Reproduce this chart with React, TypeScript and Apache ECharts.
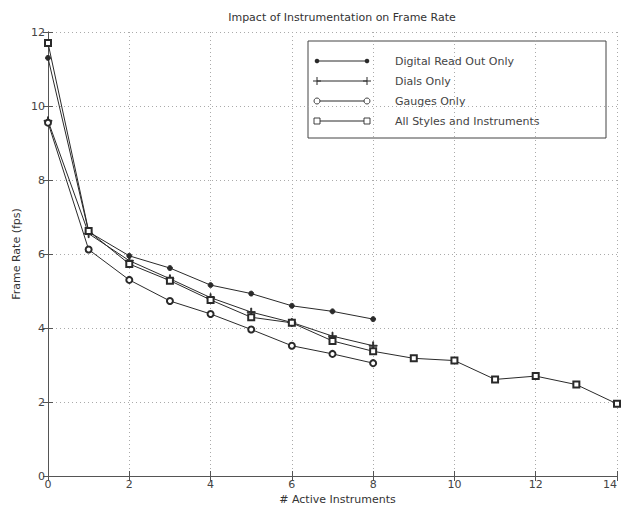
import React, { useEffect, useRef } from "react";
import * as echarts from "echarts";

const TITLE = "Impact of Instrumentation on Frame Rate";
const X_NAME = "# Active Instruments";
const Y_NAME = "Frame Rate (fps)";
const SERIES_NAMES = [
  "Digital Read Out Only",
  "Dials Only",
  "Gauges Only",
  "All Styles and Instruments",
];
const X_SHORT = [0, 1, 2, 3, 4, 5, 6, 7, 8];
const X_LONG = [0, 1, 2, 3, 4, 5, 6, 7, 8, 9, 10, 11, 12, 13, 14];
const DIGITAL = [11.3, 6.6, 5.95, 5.62, 5.16, 4.93, 4.6, 4.45, 4.24];
const DIALS = [9.6, 6.55, 5.82, 5.33, 4.82, 4.43, 4.15, 3.78, 3.52];
const GAUGES = [9.55, 6.12, 5.3, 4.73, 4.38, 3.96, 3.52, 3.3, 3.05];
const ALL = [11.7, 6.62, 5.73, 5.28, 4.76, 4.29, 4.14, 3.65, 3.37, 3.18, 3.12, 2.61, 2.7, 2.47, 1.95];

const PLUS = "path://M4.4,0H5.6V4.4H10V5.6H5.6V10H4.4V5.6H0V4.4H4.4Z";
const INK = "#2a2a2a";

export default function App() {
  const ref = useRef<HTMLDivElement>(null);
  useEffect(() => {
    document.body.style.margin = "0";
    const chart = echarts.init(ref.current!, null, { renderer: "svg" });
    const font = "'DejaVu Sans', Verdana, sans-serif";
    const pair = (xs: number[], ys: number[]) => ys.map((y, i) => [xs[i], y]);
    const mk = (name: string, data: number[][], symbol: string, size: number) => ({
      name,
      type: "line",
      data,
      symbol,
      symbolSize: size,
      showSymbol: true,
      lineStyle: { color: INK, width: 1 },
      itemStyle: { color: INK, borderColor: INK, borderWidth: 0.9 },
      z: 3,
    });
    const rowY = (i: number) => 61 + 20 * i;
    const legendChildren: any[] = [
      { type: "rect", shape: { x: 308, y: 41, width: 298, height: 97 }, style: { fill: "#fff", stroke: "#444", lineWidth: 1 } },
    ];
    SERIES_NAMES.forEach((n, i) => {
      const y = rowY(i);
      legendChildren.push({ type: "line", shape: { x1: 317, y1: y, x2: 367, y2: y }, style: { stroke: INK, lineWidth: 1 } });
      [317, 367].forEach((x) => {
        if (i === 0) legendChildren.push({ type: "circle", shape: { cx: x, cy: y, r: 2.3 }, style: { fill: INK } });
        if (i === 1) {
          legendChildren.push({ type: "line", shape: { x1: x - 4, y1: y, x2: x + 4, y2: y }, style: { stroke: INK, lineWidth: 1 } });
          legendChildren.push({ type: "line", shape: { x1: x, y1: y - 4, x2: x, y2: y + 4 }, style: { stroke: INK, lineWidth: 1 } });
        }
        if (i === 2) legendChildren.push({ type: "circle", shape: { cx: x, cy: y, r: 3 }, style: { fill: "#fff", stroke: INK, lineWidth: 0.9 } });
        if (i === 3) legendChildren.push({ type: "rect", shape: { x: x - 3, y: y - 3, width: 6, height: 6 }, style: { fill: "#fff", stroke: INK, lineWidth: 0.9 } });
      });
      legendChildren.push({
        type: "text",
        style: { x: 395, y, text: n, fill: "#444", font: `11px ${font}`, verticalAlign: "middle", align: "left" },
      });
    });
    const axisCommon = {
      type: "value",
      axisLine: { show: true, lineStyle: { color: "#555", width: 1 } },
      axisTick: { show: true, inside: true, length: 5, lineStyle: { color: "#555" } },
    };
    chart.setOption({
      animation: false,
      backgroundColor: "#fff",
      title: {
        text: TITLE,
        left: 337,
        textAlign: "center",
        top: 7,
        textStyle: { fontSize: 11, fontWeight: "normal", color: "#333", fontFamily: font },
      },
      grid: { left: 48, right: 5, top: 32, bottom: 30, containLabel: false, outerBoundsMode: "none" },
      xAxis: [
        {
          ...axisCommon,
          min: 0,
          max: 14,
          interval: 2,
          name: X_NAME,
          nameLocation: "middle",
          nameGap: 18,
          nameMoveOverlap: false,
          nameTextStyle: { fontSize: 11, color: "#333", fontFamily: font, padding: [0, 0, 0, 10], verticalAlign: "top" },
          axisLabel: { fontSize: 11, color: "#444", fontFamily: font, margin: 3, alignMaxLabel: "right" },
          splitLine: { show: true, lineStyle: { type: [1, 3], color: "#aaa", width: 1 } },
        },
        {
          ...axisCommon,
          position: "top",
          min: 0,
          max: 14,
          interval: 2,
          axisLabel: { show: false },
          splitLine: { show: false },
        },
      ],
      yAxis: [
        {
          ...axisCommon,
          min: 0,
          max: 12,
          interval: 2,
          name: Y_NAME,
          nameLocation: "middle",
          nameGap: 26,
          nameMoveOverlap: false,
          nameTextStyle: { fontSize: 11, color: "#333", fontFamily: font },
          axisLabel: { fontSize: 11, color: "#444", fontFamily: font, margin: 3 },
          splitLine: { show: true, lineStyle: { type: [1, 3], color: "#aaa", width: 1 } },
        },
        {
          ...axisCommon,
          position: "right",
          min: 0,
          max: 12,
          interval: 2,
          axisLabel: { show: false },
          splitLine: { show: false },
        },
      ],
      series: [
        mk(SERIES_NAMES[0], pair(X_SHORT, DIGITAL), "circle", 5),
        mk(SERIES_NAMES[1], pair(X_SHORT, DIALS), PLUS, 8),
        mk(SERIES_NAMES[2], pair(X_SHORT, GAUGES), "emptyCircle", 6),
        mk(SERIES_NAMES[3], pair(X_LONG, ALL), "emptyRect", 6),
      ],
      graphic: [{ type: "group", z: 100, children: legendChildren }],
    });
    return () => chart.dispose();
  }, []);
  return <div ref={ref} style={{ position: "absolute", left: 0, top: 0, width: 622, height: 506 }} />;
}
